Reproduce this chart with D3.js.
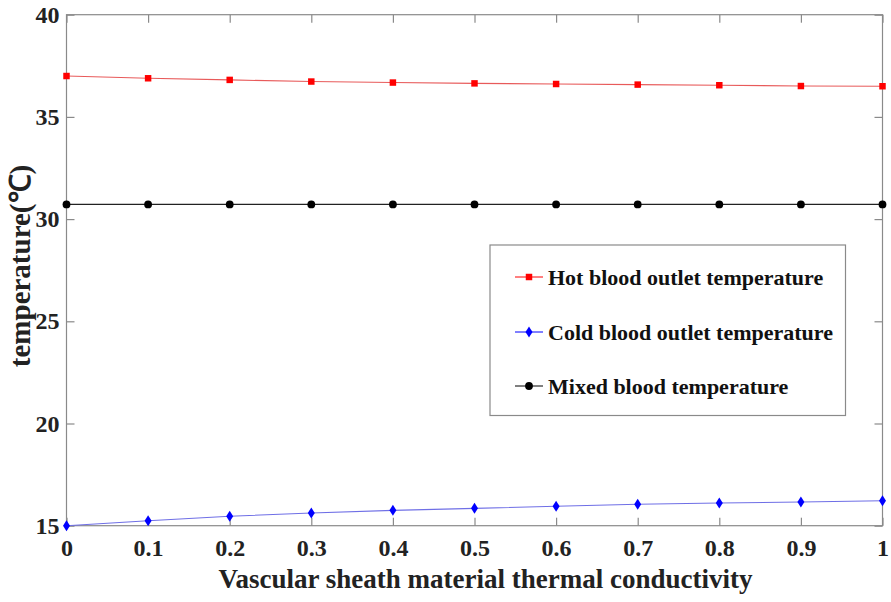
<!DOCTYPE html>
<html><head><meta charset="utf-8">
<script src="https://cdn.jsdelivr.net/npm/d3@7"></script>
<style>body{margin:0;background:#fff}svg{display:block}</style>
</head><body>
<script>
const xValues = [0, 0.1, 0.2, 0.3, 0.4, 0.5, 0.6, 0.7, 0.8, 0.9, 1.0];
const hotValues = [37.0, 36.89, 36.81, 36.73, 36.68, 36.64, 36.61, 36.58, 36.55, 36.51, 36.50];
const coldValues = [15.0, 15.24, 15.46, 15.62, 15.75, 15.85, 15.95, 16.05, 16.11, 16.16, 16.22];
const mixedValues = [30.72, 30.72, 30.72, 30.72, 30.72, 30.72, 30.72, 30.72, 30.72, 30.72, 30.72];
const xTicks = [0, 0.1, 0.2, 0.3, 0.4, 0.5, 0.6, 0.7, 0.8, 0.9, 1];
const yTicks = [15, 20, 25, 30, 35, 40];
const seriesNames = ["Hot blood outlet temperature", "Cold blood outlet temperature", "Mixed blood temperature"];
const xLabel = "Vascular sheath material thermal conductivity";
const yLabel = "temperature(℃)";

const W = 891, H = 602;
const m = {left: 66.5, top: 14.7, right: 882.5, bottom: 525.7};
const font = "'Liberation Serif','Times New Roman',serif";
const axisColor = "#8a8a8a";

const svg = d3.select("body").append("svg").attr("width", W).attr("height", H);
const x = d3.scaleLinear().domain([0, 1]).range([m.left, m.right]);
const y = d3.scaleLinear().domain([15, 40]).range([m.bottom, m.top]);

svg.append("rect").attr("x", m.left).attr("y", m.top).attr("width", m.right - m.left).attr("height", m.bottom - m.top)
  .attr("fill", "none").attr("stroke", axisColor).attr("stroke-width", 1.2);

const tl = 8;
function styleAxis(g){ g.select(".domain").remove(); g.selectAll(".tick line").attr("stroke", axisColor).attr("stroke-width", 1.2); g.selectAll("text").attr("font-family", font).attr("font-weight", "bold").attr("font-size", 24).attr("fill", "#222"); }

svg.append("g").attr("transform", `translate(0,${m.bottom})`)
  .call(d3.axisBottom(x).tickValues(xTicks).tickSize(-tl).tickPadding(tl + 5).tickFormat(d => d3.format("")(d)))
  .call(styleAxis);
svg.append("g").attr("transform", `translate(0,${m.top})`)
  .call(d3.axisTop(x).tickValues(xTicks).tickSize(-tl).tickFormat(""))
  .call(styleAxis);
svg.append("g").attr("transform", `translate(${m.left},0)`)
  .call(d3.axisLeft(y).tickValues(yTicks).tickSize(-tl).tickPadding(tl - 1))
  .call(styleAxis);
svg.append("g").attr("transform", `translate(${m.right},0)`)
  .call(d3.axisRight(y).tickValues(yTicks).tickSize(-tl).tickFormat(""))
  .call(styleAxis);

const series = [
  {name: seriesNames[0], vals: hotValues, color: "#ff0000", line: "#e85a5a", sym: d3.symbolSquare, size: 42},
  {name: seriesNames[1], vals: coldValues, color: "#0000ff", line: "#6f6fe6", sym: "diamond", size: 0},
  {name: seriesNames[2], vals: mixedValues, color: "#000000", line: "#222", sym: d3.symbolCircle, size: 48}
];
function drawMarker(g, s, cx, cy){
  if (s.sym === "diamond") {
    g.append("path").attr("d", `M${cx},${cy-5.5}L${cx+3.5},${cy}L${cx},${cy+5.5}L${cx-3.5},${cy}Z`).attr("fill", s.color);
  } else {
    g.append("path").attr("d", d3.symbol().type(s.sym).size(s.size)()).attr("transform", `translate(${cx},${cy})`).attr("fill", s.color);
  }
}
const line = d3.line().x((d, i) => x(xValues[i])).y(d => y(d));
series.forEach(s => {
  svg.append("path").datum(s.vals).attr("d", line).attr("fill", "none").attr("stroke", s.line).attr("stroke-width", 1.1);
  const g = svg.append("g");
  s.vals.forEach((v, i) => drawMarker(g, s, x(xValues[i]), y(v)));
});

const lg = svg.append("g");
lg.append("rect").attr("x", 490).attr("y", 245).attr("width", 355.5).attr("height", 170.5)
  .attr("fill", "#fff").attr("stroke", axisColor).attr("stroke-width", 1.2);
const rowsY = [277, 332, 386];
series.forEach((s, i) => {
  const yy = rowsY[i];
  lg.append("line").attr("x1", 515).attr("x2", 543).attr("y1", yy).attr("y2", yy).attr("stroke", s.color).attr("stroke-width", 1);
  drawMarker(lg, s, 529, yy);
  lg.append("text").attr("x", 548).attr("y", yy).attr("dy", "0.35em").text(s.name)
    .attr("font-family", font).attr("font-weight", "bold").attr("font-size", 22).attr("fill", "#111");
});

svg.append("text").attr("x", (m.left + m.right) / 2 + 11).attr("y", 588).attr("text-anchor", "middle")
  .attr("font-family", font).attr("font-weight", "bold").attr("font-size", 27).attr("fill", "#222").text(xLabel);
svg.append("text").attr("transform", `translate(30,266) rotate(-90)`).attr("text-anchor", "middle")
  .attr("font-family", font).attr("font-weight", "bold").attr("font-size", 29).attr("fill", "#222").text(yLabel);
</script>
</body></html>
